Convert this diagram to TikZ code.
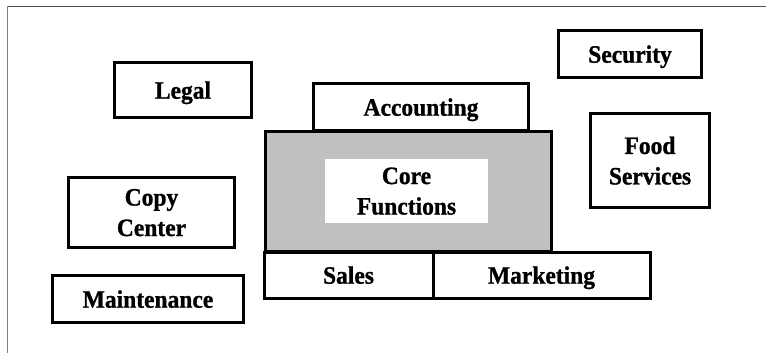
\documentclass[tikz,border=0pt]{standalone}
\usepackage{fontspec}
\setmainfont{Liberation Serif}
\newfontfamily\unitfont[FakeStretch=0.94,FakeBold=1]{Liberation Serif}
\definecolor{coregray}{RGB}{192,192,192}
\begin{document}
\begin{tikzpicture}[x=1pt,y=-1pt,
  unit/.style={draw=black, line width=3pt, fill=white, inner sep=0pt,
    align=center, text depth=0pt,
    font=\unitfont\bfseries\fontsize{25}{30.5}\selectfont},
  corebox/.style={draw=black, line width=3pt, fill=coregray, inner sep=0pt},
  corelabel/.style={fill=white, inner sep=0pt, align=center, text depth=0pt,
    font=\unitfont\bfseries\fontsize{25}{30.5}\selectfont},
  frameline/.style={line width=1.2pt}
]
\useasboundingbox (0,0) rectangle (766,353);

% page frame (top and left edges only)
\coordinate (frameTL) at (7.5,6.5);
\coordinate (frameTR) at (766,6.5);
\coordinate (frameBL) at (7.5,353);
\draw[frameline, draw=black!50] (frameTL) -- (frameBL);
\draw[frameline, draw=black!70] (frameTL) -- (frameTR);

% central block
\node[unit, minimum width=215, minimum height=46] (accounting) at (421,107) {Accounting};
\node[corebox, minimum width=286, minimum height=120] (core) at (408.5,191) {};
\node[corelabel, minimum width=163, minimum height=64] (corefn) at (406.5,191) {Core\\Functions};
\node[unit, minimum width=169, minimum height=46] (sales) at (348.5,275) {Sales};
\node[unit, minimum width=217, minimum height=46] (marketing) at (541.5,275) {Marketing};

% support units around it
\node[unit, minimum width=137, minimum height=55] (legal) at (183,90) {Legal};
\node[unit, minimum width=143, minimum height=47] (security) at (630,54) {Security};
\node[unit, minimum width=119, minimum height=94] (food) at (650,160.5) {Food\\Services};
\node[unit, minimum width=166, minimum height=70] (copy) at (151.5,212.5) {Copy\\Center};
\node[unit, minimum width=191, minimum height=47] (maint) at (148,299) {Maintenance};
\end{tikzpicture}
\end{document}
